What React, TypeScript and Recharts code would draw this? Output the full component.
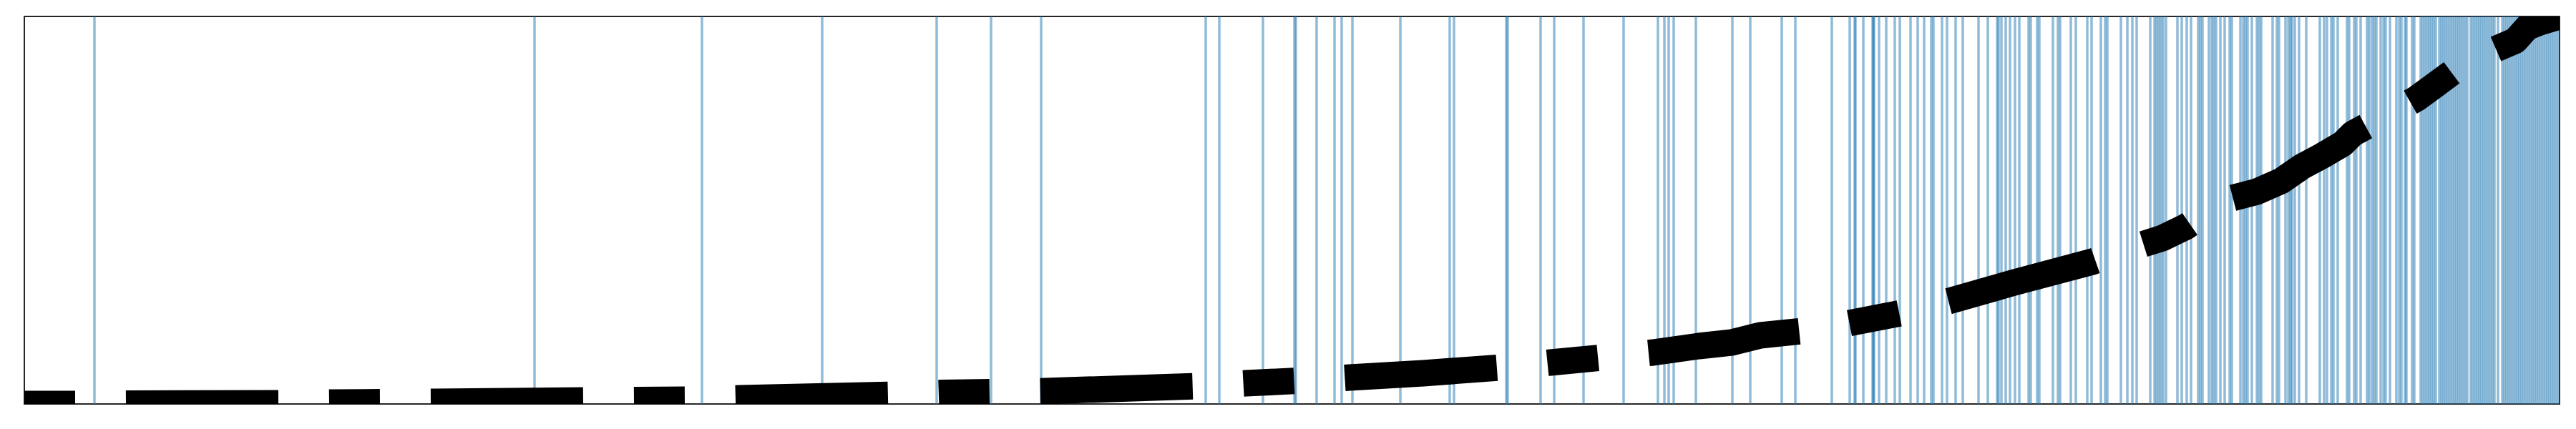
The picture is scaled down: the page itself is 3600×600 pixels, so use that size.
import { LineChart, Line, XAxis, YAxis, ReferenceLine, ReferenceArea } from "recharts";

// event positions (blue rug lines)
const events = [
  132, 747, 981, 1149, 1309, 1385, 1455, 1685, 1704, 1765,
  1809, 1811, 1840, 1865, 1875, 1890, 1957, 2026, 2032, 2105, 2107, 2153, 2172, 2213,
  2269, 2317, 2326, 2332, 2339, 2370, 2421, 2446, 2490, 2509, 2560, 2585, 2592, 2593,
  2604, 2617, 2618, 2619, 2626, 2636, 2648, 2655, 2670, 2680, 2689, 2699,
  2702, 2714, 2721, 2733, 2743, 2765, 2778, 2791, 2793, 2797, 2803, 2809, 2816, 2822,
  2835, 2838, 2847, 2850, 2869, 2876, 2879, 2894, 2901, 2917,
  2923, 2936, 2942, 2945, 2964, 2973, 2980, 2986, 3005, 3011, 3014, 3017, 3020, 3023,
  3027, 3043, 3049, 3056, 3062, 3072, 3075, 3078, 3087, 3091, 3094, 3097, 3103, 3109,
  3116, 3119, 3131, 3135, 3138,
  3141, 3147, 3154, 3157, 3160, 3176, 3182, 3185, 3194, 3198, 3201, 3203, 3207, 3213,
  3223, 3242, 3248, 3252, 3258, 3261, 3267, 3280, 3283, 3290, 3293, 3299, 3308, 3311,
  3315, 3318, 3321, 3327, 3331, 3334, 3340, 3349, 3353, 3356, 3361,
  3363, 3371, 3374, 3383, 3386, 3389, 3392, 3395, 3398, 3401, 3404,
  3409, 3412, 3415, 3418, 3421, 3424, 3427, 3430, 3433, 3436, 3439, 3442, 3445, 3448,
  3453, 3456, 3459, 3462, 3465, 3468, 3471, 3474, 3477, 3480, 3483, 3486, 3491,
  3497, 3500, 3503, 3506, 3509, 3512, 3515, 3518, 3521, 3524, 3527, 3530, 3533, 3536,
  3539, 3542, 3545, 3548, 3551, 3554, 3557, 3560, 3563, 3566, 3569, 3572, 3575,
];

// cumulative curve
const lineX = [
  34, 108, 180, 393, 464, 535, 607, 820, 890, 962, 1033, 1246, 1316, 1388, 1460, 1672,
  1741, 1814, 1886, 1989, 2097, 2167, 2239, 2310, 2374, 2420, 2460, 2519, 2584, 2661,
  2724, 2815, 2924, 2990, 3022, 3055, 3108, 3154, 3188, 3217, 3245, 3274, 3288, 3347,
  3377, 3403, 3457, 3487, 3515, 3532, 3550, 3577,
];
const lineY = [
  0, 0, 0.5, 1, 2, 2.5, 3, 5, 5.6, 6, 8, 13, 15.5, 16.5, 18, 25,
  29, 32.5, 37, 43, 51, 58, 65, 72, 81, 86, 96, 102, 113, 128,
  144, 170, 199, 222, 232, 248, 285, 297, 312, 332, 347, 364, 378, 410,
  427, 446, 486, 496, 508, 527, 534, 542,
];

const X_MIN = 34;
const X_MAX = 3577;
const Y_MAX = 542;

const data = lineX.map((x, i) => ({ x, y: lineY[i] }));

export default function App() {
  return (
    <div style={{ position: "absolute", left: 0, top: 0, width: 3600, height: 600, background: "#fff" }}>
      <LineChart
        width={3600}
        height={600}
        data={data}
        margin={{ top: 23, right: 23, bottom: 35, left: 34 }}
      >
        <XAxis dataKey="x" type="number" domain={[X_MIN, X_MAX]} allowDataOverflow hide />
        <YAxis type="number" domain={[0, Y_MAX]} allowDataOverflow hide />
        {events.map((e, i) => (
          <ReferenceLine
            key={i}
            x={e}
            stroke="#1f77b4"
            strokeOpacity={0.5}
            strokeWidth={3.5}
          />
        ))}
        <Line
          dataKey="y"
          type="linear"
          stroke="#000"
          strokeWidth={37}
          strokeDasharray="71 71 213 71"
          strokeLinejoin="round"
          dot={false}
          activeDot={false}
          isAnimationActive={false}
        />
        <ReferenceArea
          x1={X_MIN}
          x2={X_MAX}
          y1={0}
          y2={Y_MAX}
          fill="none"
          stroke="#262626"
          strokeWidth={2}
          ifOverflow="visible"
        />
      </LineChart>
    </div>
  );
}
